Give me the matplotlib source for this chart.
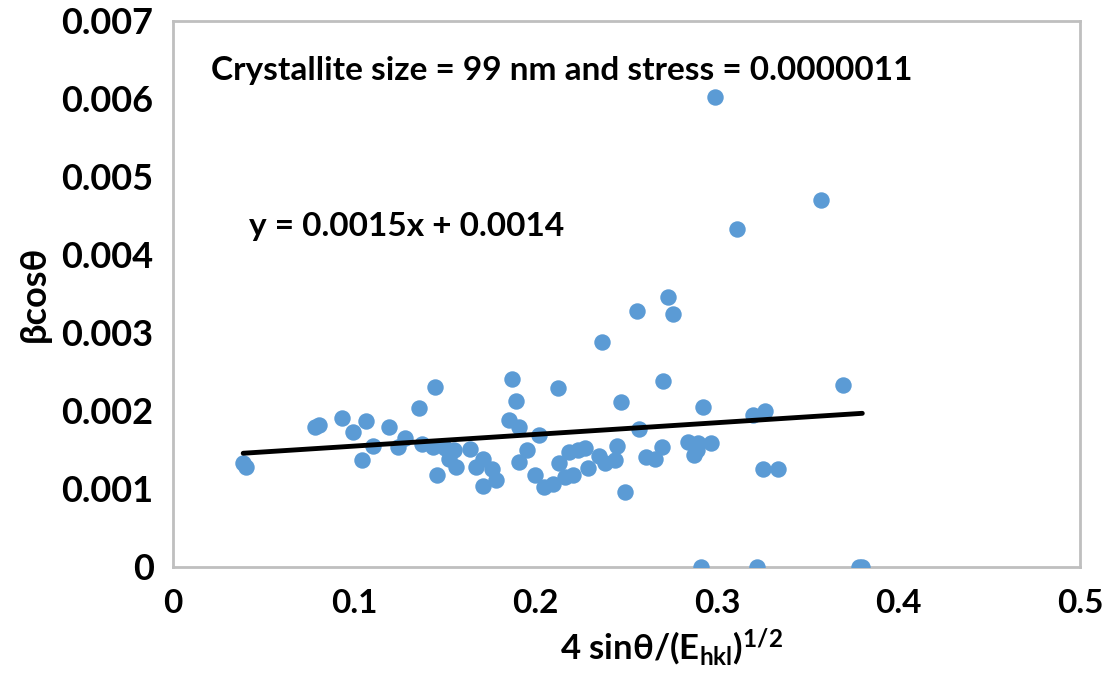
import numpy as np
import matplotlib
matplotlib.use('Agg')
import matplotlib.pyplot as plt
from matplotlib.ticker import MultipleLocator, FuncFormatter

# Williamson-Hall style data
x_vals = [0.0387, 0.0403, 0.0785, 0.0807, 0.0934, 0.0994, 0.1066, 0.1188, 0.1105, 0.1044,
          0.128, 0.1243, 0.1354, 0.1442, 0.137, 0.1436, 0.1453, 0.1497, 0.152,
          0.1867, 0.189, 0.2122, 0.247, 0.270, 0.185, 0.191, 0.2017, 0.257,
          0.155, 0.156, 0.164, 0.167, 0.171, 0.176, 0.178, 0.171,
          0.195, 0.191, 0.1994, 0.2044, 0.2094, 0.2127, 0.216, 0.2204, 0.2182,
          0.2232, 0.227, 0.2287, 0.2348, 0.238, 0.2436, 0.2447, 0.249, 0.2608,
          0.2657, 0.2696, 0.3696, 0.2923, 0.3199, 0.3265, 0.284, 0.2895, 0.2967,
          0.2873, 0.289, 0.3254, 0.3337, 0.2365, 0.2558, 0.273, 0.2757,
          0.2989, 0.3575, 0.311, 0.2912, 0.3221, 0.378, 0.380]
y_vals = [0.001333, 0.001282, 0.00179, 0.00182, 0.00191, 0.00173, 0.00187, 0.00179, 0.00155, 0.00137,
          0.00165, 0.00154, 0.00204, 0.00231, 0.00158, 0.00154, 0.00118, 0.00153, 0.00138,
          0.00241, 0.00213, 0.00229, 0.00212, 0.00238, 0.00188, 0.00179, 0.00169, 0.00177,
          0.0015, 0.00128, 0.00151, 0.00128, 0.00138, 0.00125, 0.00111, 0.00104,
          0.0015, 0.00135, 0.00118, 0.00103, 0.00106, 0.00133, 0.00115, 0.00118, 0.00147,
          0.0015, 0.00153, 0.00127, 0.00142, 0.00133, 0.00137, 0.00155, 0.00096, 0.00141,
          0.00138, 0.00154, 0.00233, 0.00205, 0.00195, 0.0020, 0.0016, 0.00159, 0.00159,
          0.00144, 0.0015, 0.00126, 0.00126, 0.00288, 0.00328, 0.00346, 0.00324,
          0.00603, 0.00471, 0.00433, 0.0, 0.0, 0.0, 0.0]

slope = 0.0015
intercept = 0.0014
eq_label = 'y = 0.0015x + 0.0014'
note_label = 'Crystallite size = 99 nm and stress = 0.0000011'

plt.rcParams['font.family'] = ['Lato', 'DejaVu Sans']
plt.rcParams['mathtext.fontset'] = 'custom'
plt.rcParams['mathtext.rm'] = 'Lato:bold'
plt.rcParams['mathtext.it'] = 'Lato:bold'

fig = plt.figure(figsize=(11.02, 6.86), dpi=100)
ax = fig.add_axes([0.157, 0.1735, 0.823, 0.7959])

ax.scatter(x_vals, y_vals, s=140, color='#5B9BD5', zorder=3, linewidths=0)

x_fit = np.array([min(x_vals), max(x_vals)])
ax.plot(x_fit, slope * x_fit + intercept, color='black', lw=3.5, zorder=4,
        solid_capstyle='round')

ax.set_xlim(0, 0.5)
ax.set_ylim(0, 0.007)
ax.xaxis.set_major_locator(MultipleLocator(0.1))
ax.yaxis.set_major_locator(MultipleLocator(0.001))
ax.xaxis.set_major_formatter(FuncFormatter(lambda v, p: '0' if abs(v) < 1e-12 else f'{v:.1f}'))
ax.yaxis.set_major_formatter(FuncFormatter(lambda v, p: '0' if abs(v) < 1e-12 else f'{v:.3f}'))

for s in ax.spines.values():
    s.set_color('#BFBFBF')
    s.set_linewidth(2)
ax.tick_params(length=0)
ax.tick_params(axis='y', pad=14, labelsize=26)
ax.tick_params(axis='x', pad=16, labelsize=24)
for lab in ax.get_xticklabels() + ax.get_yticklabels():
    lab.set_fontweight('bold')

ax.set_ylabel('βcosθ', fontsize=26, fontweight='bold')
ax.yaxis.set_label_coords(-0.135, 0.5)
ax.set_xlabel('4 sinθ/(E$_{\\mathrm{hkl}}$)$^{1/2}$', fontsize=25, fontweight='bold')
ax.xaxis.set_label_coords(0.55, -0.11)

ax.text(0.021, 0.00637, note_label, fontsize=24, fontweight='bold', va='center', ha='left')
ax.text(0.042, 0.00436, eq_label, fontsize=24, fontweight='bold', va='center', ha='left')

fig.savefig('out.png', dpi=100)
